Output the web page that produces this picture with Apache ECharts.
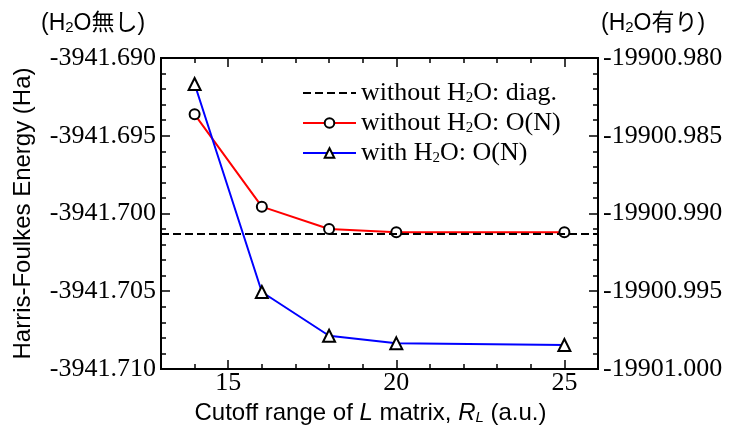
<!DOCTYPE html>
<html>
<head>
<meta charset="utf-8">
<script src="https://cdn.jsdelivr.net/npm/echarts@6/dist/echarts.min.js"></script>
<style>
  html, body { margin: 0; padding: 0; background: #fff; }
  #chart { width: 733px; height: 432px; }
</style>
</head>
<body>
<div id="chart"></div>
<script>
// cutoff range R_L (a.u.)
const cutoffs = [14, 16, 18, 20, 25]
// without H2O, O(N) method (left axis, Ha)
const energyNoWater = [-3941.69362, -3941.69956, -3941.7010, -3941.7012, -3941.7012]
// with H2O, O(N) method (right axis, Ha)
const energyWater = [-19900.98167, -19900.99505, -19900.99786, -19900.99835, -19900.99846]
// without H2O, diagonalization reference
const energyDiag = -3941.7013
const xMajorTicks = [15, 20, 25]

const serif = 'Liberation Serif, Times New Roman, serif'
const sans = 'Liberation Sans, Arial, Noto Sans CJK JP, sans-serif'

const chart = echarts.init(document.getElementById('chart'))

const tickRich = { t: { fontFamily: serif, fontSize: 26, color: '#000' } }

const axisLine = { lineStyle: { color: '#000', width: 2 } }
const minorX = {
  type: 'value', min: 13, max: 26, interval: 1,
  axisLine: axisLine,
  axisTick: { inside: true, length: 5, lineStyle: { color: '#000', width: 1.5 } },
  axisLabel: { show: false },
  splitLine: { show: false }
}
const majorX = {
  type: 'value', min: 13, max: 26,
  axisLine: axisLine,
  axisTick: { inside: true, length: 9, customValues: xMajorTicks, lineStyle: { color: '#000', width: 1.5 } },
  axisLabel: { show: false, customValues: xMajorTicks },
  splitLine: { show: false }
}
const yCommon = {
  type: 'value', interval: 0.005,
  axisLine: axisLine,
  axisTick: { inside: true, length: 9, lineStyle: { color: '#000', width: 1.5 } },
  minorTick: { show: true, splitNumber: 5, length: 5, lineStyle: { color: '#000', width: 1.5 } },
  splitLine: { show: false },
  axisLabel: {
    showMinLabel: true, showMaxLabel: true,
    fontFamily: serif, fontSize: 26, color: '#000', margin: 5,
    formatter: v => '{t|' + v.toFixed(3) + '}',
    rich: tickRich
  }
}

const sub = { fontSize: 15, padding: [10, 0, 0, 0] }

chart.setOption({
  animation: false,
  textStyle: { fontFamily: serif },
  grid: { left: 161, right: 135, top: 58, bottom: 63 },
  legend: {
    orient: 'vertical', left: 302, top: 80, padding: 0,
    itemWidth: 53, itemHeight: 12, itemGap: 4,
    textStyle: {
      fontFamily: serif, fontSize: 26, color: '#000',
      rich: { sub: Object.assign({ fontFamily: serif }, sub) }
    },
    formatter: name => name.replace('H2O', 'H{sub|2}O'),
    data: [
      { name: 'without H2O: diag.', itemStyle: { opacity: 0 } },
      'without H2O: O(N)',
      'with H2O: O(N)'
    ]
  },
  graphic: [
    {
      type: 'text', left: 41, top: 12,
      style: {
        text: '(H{s|2}O無し)', fontFamily: sans, fontSize: 23, fill: '#000',
        rich: { s: { fontFamily: sans, fontSize: 15, padding: [9, 0, 0, 0] } }
      }
    },
    {
      type: 'text', left: 601, top: 12,
      style: {
        text: '(H{s|2}O有り)', fontFamily: sans, fontSize: 23, fill: '#000',
        rich: { s: { fontFamily: sans, fontSize: 15, padding: [9, 0, 0, 0] } }
      }
    }
  ],
  xAxis: [
    Object.assign({}, minorX, { position: 'bottom' }),
    Object.assign({}, majorX, {
      position: 'bottom',
      axisLabel: {
        show: true, customValues: xMajorTicks,
        fontFamily: serif, fontSize: 26, color: '#000', margin: 1,
        formatter: v => '{t|' + v + '}',
        rich: tickRich
      },
      name: 'Cutoff range of {i|L} matrix, {i|R}{is|L} (a.u.)',
      nameLocation: 'middle', nameGap: 14,
      nameTextStyle: {
        fontFamily: sans, fontSize: 24, color: '#000', padding: [0, 18, 0, 0],
        rich: {
          i: { fontFamily: sans, fontSize: 24, fontStyle: 'italic' },
          is: { fontFamily: sans, fontSize: 15, fontStyle: 'italic', padding: [10, 0, 0, 0] }
        }
      }
    }),
    Object.assign({}, minorX, { position: 'top' }),
    Object.assign({}, majorX, { position: 'top' })
  ],
  yAxis: [
    Object.assign({}, yCommon, {
      position: 'left', min: -3941.710, max: -3941.690,
      name: 'Harris-Foulkes Energy (Ha)',
      nameLocation: 'middle', nameGap: 126, nameRotate: 90,
      nameTextStyle: { fontFamily: sans, fontSize: 24, color: '#000' }
    }),
    Object.assign({}, yCommon, {
      position: 'right', min: -19901.000, max: -19900.980
    })
  ],
  series: [
    {
      name: 'without H2O: diag.',
      type: 'line',
      data: [],
      symbol: 'none',
      showSymbol: false,
      color: '#000',
      lineStyle: { color: '#000', width: 2, type: [8, 4] },
      markLine: {
        silent: true, symbol: 'none', precision: 6,
        label: { show: false },
        lineStyle: { color: '#000', width: 2, type: [8, 4] },
        data: [{ yAxis: energyDiag }]
      }
    },
    {
      name: 'without H2O: O(N)',
      type: 'line',
      xAxisIndex: 0, yAxisIndex: 0,
      data: cutoffs.map((x, i) => [x, energyNoWater[i]]),
      symbol: 'circle', symbolSize: 10,
      lineStyle: { color: '#ff0000', width: 2 },
      itemStyle: { color: '#fff', borderColor: '#000', borderWidth: 2 },
      z: 3
    },
    {
      name: 'with H2O: O(N)',
      type: 'line',
      xAxisIndex: 0, yAxisIndex: 1,
      data: cutoffs.map((x, i) => [x, energyWater[i]]),
      symbol: 'triangle', symbolSize: 12,
      lineStyle: { color: '#0000ff', width: 2 },
      itemStyle: { color: '#fff', borderColor: '#000', borderWidth: 2 },
      z: 3
    }
  ]
})
</script>
</body>
</html>
